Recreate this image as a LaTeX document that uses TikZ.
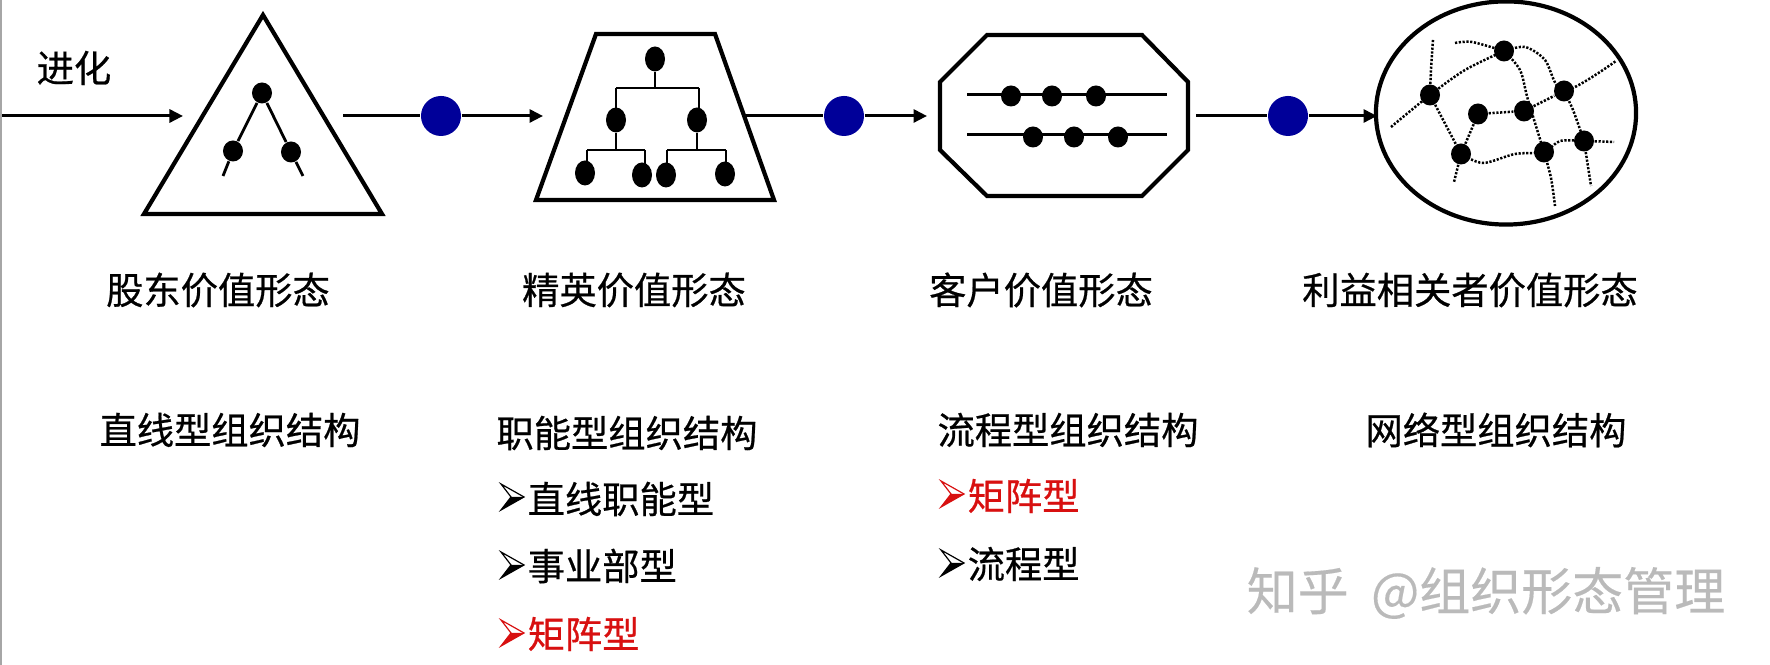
\documentclass[tikz,border=0pt]{standalone}
\usepackage{fontspec}
\setmainfont{Noto Sans CJK SC}[FakeBold=0.6]
\newfontfamily\markfont{Noto Sans CJK SC}[FakeBold=0.3]
\usepackage{xcolor}
\usetikzlibrary{arrows.meta}
\usetikzlibrary{shapes.geometric}
\definecolor{dotblue}{HTML}{000099}
\definecolor{markred}{HTML}{D81010}
\definecolor{markgray}{HTML}{BABABA}
\tikzset{
  lbl/.style={inner sep=0pt,font=\fontsize{10.6}{12}\selectfont},
  lblw/.style={lbl,anchor=west},
  shapeline/.style={line width=0.042cm,line join=miter},
  flow/.style={line width=0.03cm},
  flowtip/.style={flow,-{Triangle[length=0.135cm,width=0.13cm]}},
  thin line/.style={line width=0.028cm},
  netline/.style={line width=0.025cm,dash pattern=on 0.022cm off 0.016cm},
  blob/.style={ellipse,fill=black,inner sep=0pt,minimum width=0.2cm,minimum height=0.21cm},
  tallblob/.style={blob,minimum height=0.25cm},
  bluedot/.style={circle,fill=dotblue,inner sep=0pt,minimum size=0.4cm}
}
% the little arrow in front of a list entry, tip at #1,#2
\newcommand{\listmark}[3]{
\begin{scope}[shift={(#1,#2)}]
\fill [#3] (0,0) -- (-13,0) -- (-23,13) -- cycle;
\draw [#3, line width=0.012cm] (0,0) -- (-23,-13) -- (-13,0) -- (-23,13) -- cycle;
\end{scope}
}
\begin{document}
\begin{tikzpicture}[x=0.01cm,y=-0.01cm]
\useasboundingbox (0,0) rectangle (1770,665);
\draw [line width=0.03cm, gray!70] (0,0) -- (0,665);

% flow along the top
\node [lbl] (evo) at (74,68) {进化};
\coordinate (s1) at (2,116);
\coordinate (e1) at (183,116);
\coordinate (s2) at (343,116);
\coordinate (e2) at (543,116);
\coordinate (s3) at (746,116);
\coordinate (e3) at (927,116);
\coordinate (s4) at (1196,116);
\coordinate (e4) at (1377,116);
\node [bluedot] (b1) at (441,116) {};
\node [bluedot] (b2) at (844,116) {};
\node [bluedot] (b3) at (1288,116) {};
\draw [flowtip] (s1) -- (e1);
\draw [flow] (s2) -- (b1);
\draw [flowtip] (b1) -- (e2);
\draw [flow] (s3) -- (b2);
\draw [flowtip] (b2) -- (e3);
\draw [flow] (s4) -- (b3);
\draw [flowtip] (b3) -- (e4);

% triangle
\draw [shapeline] (263,15) -- (382,214) -- (144,214) -- cycle;
\node [blob] (t1) at (262,93) {};
\node [blob] (t2) at (233,151) {};
\node [blob] (t3) at (291,152) {};
\coordinate (t2end) at (223,176);
\coordinate (t3end) at (303,176);
\draw [thin line] (t1) -- (t2) -- (t2end);
\draw [thin line] (t1) -- (t3) -- (t3end);

% trapezoid
\draw [shapeline] (596,34) -- (715,34) -- (774,200) -- (536,200) -- cycle;
\node [tallblob] (f1) at (655,59) {};
\node [tallblob] (f2) at (616,120) {};
\node [tallblob] (f3) at (697,120) {};
\node [tallblob] (f4) at (585,173) {};
\node [tallblob] (f5) at (642,175) {};
\node [tallblob] (f6) at (666,175) {};
\node [tallblob] (f7) at (725,174) {};
\coordinate (bar0a) at (616,88);
\coordinate (bar0b) at (699,88);
\coordinate (bar1a) at (587,150);
\coordinate (bar1b) at (645,150);
\coordinate (bar2a) at (667,150);
\coordinate (bar2b) at (726,150);
\draw [thin line] (f1) -- (f1 |- bar0a);
\draw [thin line] (bar0a) -- (bar0b);
\draw [thin line] (bar0a) -- (bar0a |- f2);
\draw [thin line] (bar0b) -- (bar0b |- f3);
\draw [thin line] (f2) -- (f2 |- bar1a);
\draw [thin line] (f3) -- (f3 |- bar2a);
\draw [thin line] (bar1a) -- (bar1b);
\draw [thin line] (bar2a) -- (bar2b);
\draw [thin line] (bar1a) -- (bar1a |- f4);
\draw [thin line] (bar1b) -- (bar1b |- f5);
\draw [thin line] (bar2a) -- (bar2a |- f6);
\draw [thin line] (bar2b) -- (bar2b |- f7);

% octagon
\draw [shapeline] (987,35) -- (1142,35) -- (1188,82) -- (1188,150) -- (1142,196) -- (987,196) -- (940,150) -- (940,82) -- cycle;
\coordinate (r1a) at (967,95);
\coordinate (r1b) at (1167,95);
\coordinate (r2a) at (967,135);
\coordinate (r2b) at (1167,135);
\draw [flow] (r1a) -- (r1b);
\draw [flow] (r2a) -- (r2b);
\node [blob] (p1) at (1011,96) {};
\node [blob] (p2) at (1052,96) {};
\node [blob] (p3) at (1096,96) {};
\node [blob] (p4) at (1033,137) {};
\node [blob] (p5) at (1074,137) {};
\node [blob] (p6) at (1118,137) {};

% network in the circle
\node [ellipse,draw,line width=0.042cm,inner sep=0pt,minimum width=2.6cm,minimum height=2.23cm] (net) at (1506,113) {};
\node [blob] (n1) at (1430,95) {};
\node [blob] (n2) at (1504,51) {};
\node [blob] (n3) at (1564,91) {};
\node [blob] (n4) at (1478,114) {};
\node [blob] (n5) at (1524,111) {};
\node [blob] (n6) at (1461,154) {};
\node [blob] (n7) at (1544,152) {};
\node [blob] (n8) at (1584,141) {};
\coordinate (m1) at (1433,40);
\coordinate (m2) at (1391,127);
\coordinate (m3) at (1455,43);
\coordinate (m4) at (1616,61);
\coordinate (m5) at (1454,182);
\coordinate (m6) at (1555,206);
\coordinate (m7) at (1591,186);
\coordinate (m8) at (1614,142);
\draw [netline] plot [smooth] coordinates {(m1) (1431,70) (n1)};
\draw [netline] plot [smooth] coordinates {(m2) (n1) (1465,70) (n2)};
\draw [netline] plot [smooth] coordinates {(m3) (1472,42) (n2)};
\draw [netline] plot [smooth] coordinates {(n2) (1525,47) (1545,60) (n3) (m4)};
\draw [netline] plot [smooth] coordinates {(n2) (1520,70) (1528,100) (n7)};
\draw [netline] plot [smooth] coordinates {(n7) (1551,178) (m6)};
\draw [netline] (n4) -- (n5) -- (n3);
\draw [netline] (n1) -- (n6) -- (m5);
\draw [netline] (n4) -- (n6);
\draw [netline] plot [smooth] coordinates {(n3) (1573,110) (n8)};
\draw [netline] (n8) -- (m7);
\draw [netline] plot [smooth] coordinates {(n6) (1483,163) (1515,154) (n7) (1560,141) (n8) (m8)};

% labels
\node [lbl] (v1) at (218,290) {股东价值形态};
\node [lbl] (v2) at (634,290) {精英价值形态};
\node [lbl] (v3) at (1041,290) {客户价值形态};
\node [lbl] (v4) at (1470,290) {利益相关者价值形态};
\node [lbl] (o1) at (230,430) {直线型组织结构};
\node [lbl] (o2) at (627,433) {职能型组织结构};
\node [lbl] (o3) at (1068,430) {流程型组织结构};
\node [lbl] (o4) at (1496,430) {网络型组织结构};
\node [lblw] (a1) at (527,499) {直线职能型};
\node [lblw] (a2) at (527,566) {事业部型};
\node [lblw,text=markred] (a3) at (527,634) {矩阵型};
\node [lblw,text=markred] (c1) at (967,496) {矩阵型};
\node [lblw] (c2) at (967,564) {流程型};
\listmark{524}{497}{black}
\listmark{524}{565}{black}
\listmark{524}{633}{markred}
\listmark{964}{494}{markred}
\listmark{964}{563}{black}
\node [anchor=west,inner sep=0pt,text=markgray,font=\markfont\fontsize{14.5}{16}\selectfont] (wm) at (1246,593) {知乎\hspace{0.11cm} @组织形态管理};
\end{tikzpicture}
\end{document}
